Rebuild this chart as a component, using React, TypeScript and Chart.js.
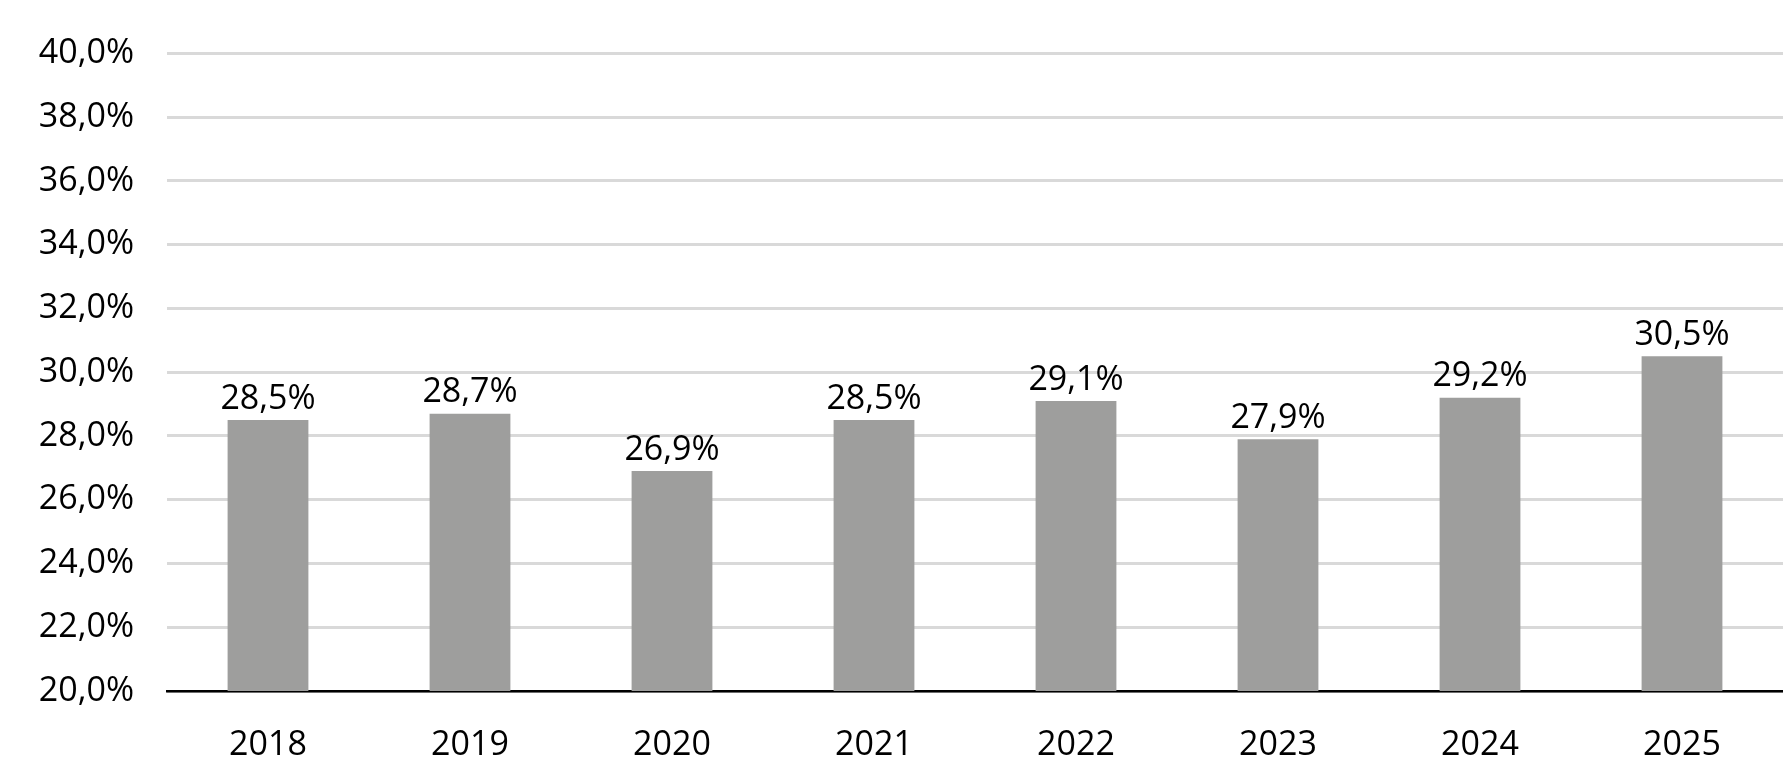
import React, { useEffect, useRef } from "react";
import { Chart, registerables } from "chart.js";
Chart.register(...registerables);

const categories = ["2018", "2019", "2020", "2021", "2022", "2023", "2024", "2025"];
const values = [28.5, 28.7, 26.9, 28.5, 29.1, 27.9, 29.2, 30.5];
const fmt = (v: number) => v.toFixed(1).replace(".", ",") + "%";
const FONT = "'Open Sans', 'Noto Sans', sans-serif";

export default function App() {
  const ref = useRef<HTMLCanvasElement>(null);
  useEffect(() => {
    document.body.style.margin = "0";
    const labelPlugin = {
      id: "vals",
      afterDatasetsDraw(chart: any) {
        const ctx = chart.ctx;
        const meta = chart.getDatasetMeta(0);
        ctx.save();
        ctx.font = `34px ${FONT}`;
        ctx.fillStyle = "#000";
        ctx.textAlign = "center";
        ctx.textBaseline = "bottom";
        meta.data.forEach((el: any, i: number) => {
          ctx.fillText(fmt(values[i]), el.x, el.y - 4);
        });
        ctx.restore();
      },
    };
    const chart = new Chart(ref.current!, {
      type: "bar",
      data: {
        labels: categories,
        datasets: [{ data: values, backgroundColor: "#9e9e9d", categoryPercentage: 1, barPercentage: 0.4 }],
      },
      options: {
        animation: false,
        responsive: false,
        layout: { padding: { top: 14, right: 0, left: 0, bottom: 0 } },
        plugins: { legend: { display: false }, tooltip: { enabled: false } },
        scales: {
          x: {
            grid: { display: false },
            border: { color: "#000", width: 2.5 },
            ticks: { color: "#000", font: { size: 34, family: FONT }, padding: 26 },
            afterFit: (s: any) => { s.height = 84; },
          },
          y: {
            min: 20,
            max: 40,
            grid: { color: "#d9d9d9", lineWidth: 3, drawTicks: false },
            border: { display: false },
            ticks: { stepSize: 2, color: "#000", font: { size: 34, family: FONT }, padding: 33, callback: (v: any) => fmt(Number(v)) },
            afterFit: (s: any) => { s.width = 167; },
          },
        },
      },
      plugins: [labelPlugin],
    });
    return () => chart.destroy();
  }, []);
  return <canvas ref={ref} width={1783} height={775} style={{ display: "block" }} />;
}
